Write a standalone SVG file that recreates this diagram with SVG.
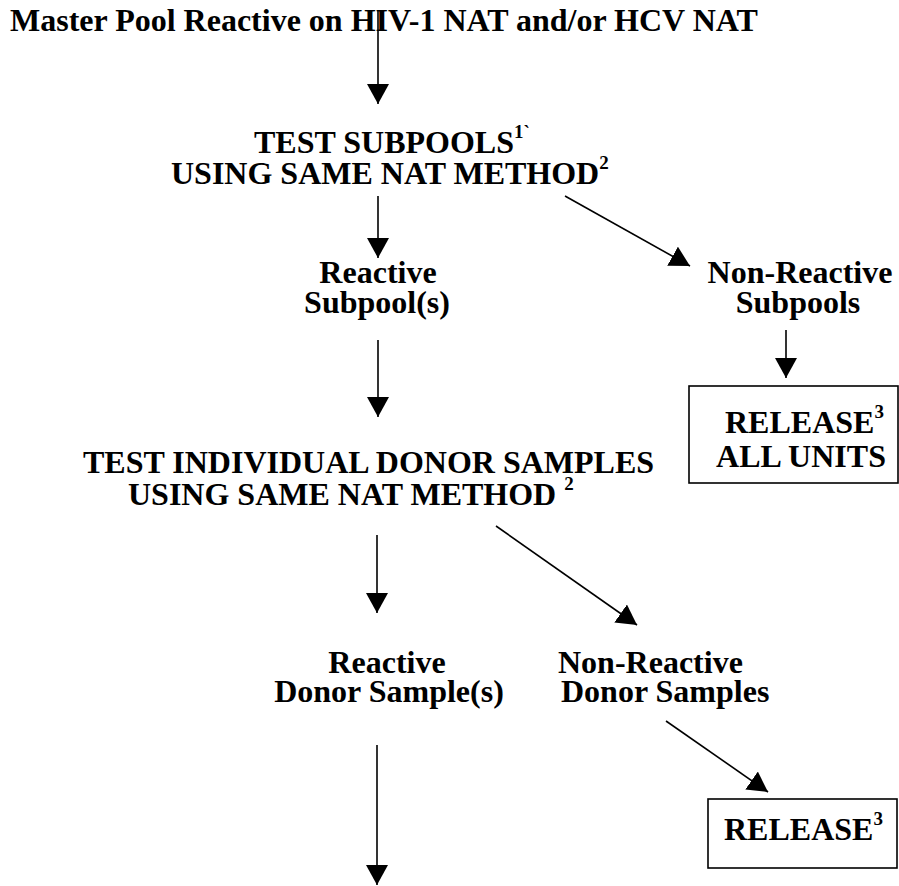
<svg xmlns="http://www.w3.org/2000/svg" width="899" height="886" viewBox="0 0 899 886">
  <defs>
    <style>
      text { font-family: "Liberation Serif", "Times New Roman", "DejaVu Serif", serif; font-weight: bold; font-size: 32px; fill: #000; }
      .mid { text-anchor: middle; }
      .sup { font-size: 19px; }
      .box { fill: #fff; stroke: #000; stroke-width: 1.6; }
      .link { stroke: #000; stroke-width: 1.6; fill: none; marker-end: url(#head); }
    </style>
    <marker id="head" viewBox="0 0 20 22" refX="20" refY="11" markerWidth="20" markerHeight="22" markerUnits="userSpaceOnUse" orient="auto">
      <path d="M0,0 L20,11 L0,22 Z" fill="#000"/>
    </marker>
  </defs>
  <rect width="899" height="886" fill="#fff"/>

  <g id="master-pool">
    <text x="10" y="31">Master Pool Reactive on HIV-1 NAT and/or HCV NAT</text>
  </g>

  <g id="test-subpools">
    <text x="254" y="153">TEST SUBPOOLS<tspan class="sup" dy="-15">1`</tspan></text>
    <text x="171" y="184">USING SAME NAT METHOD<tspan class="sup" dy="-15">2</tspan></text>
  </g>

  <g id="reactive-subpools">
    <text class="mid" x="378" y="283">Reactive</text>
    <text class="mid" x="377" y="313">Subpool(s)</text>
  </g>

  <g id="nonreactive-subpools">
    <text class="mid" x="800" y="283">Non-Reactive</text>
    <text class="mid" x="798" y="313">Subpools</text>
  </g>

  <g id="release-all-units">
    <rect class="box" x="689" y="386" width="209" height="97"/>
    <text x="725" y="433">RELEASE<tspan class="sup" dy="-15">3</tspan></text>
    <text class="mid" x="801" y="467">ALL UNITS</text>
  </g>

  <g id="test-individual">
    <text x="83" y="473">TEST INDIVIDUAL DONOR SAMPLES</text>
    <text x="128" y="505">USING SAME NAT METHOD <tspan class="sup" dy="-15">2</tspan></text>
  </g>

  <g id="reactive-donor">
    <text class="mid" x="387" y="673">Reactive</text>
    <text class="mid" x="389" y="702">Donor Sample(s)</text>
  </g>

  <g id="nonreactive-donor">
    <text x="558" y="673">Non-Reactive</text>
    <text x="561" y="702">Donor Samples</text>
  </g>

  <g id="release">
    <rect class="box" x="708" y="799" width="189" height="69"/>
    <text x="724" y="840">RELEASE<tspan class="sup" dy="-15">3</tspan></text>
  </g>

  <g id="connectors">
    <line class="link" x1="378" y1="10" x2="378" y2="104"/>
    <line class="link" x1="378" y1="196" x2="378" y2="258"/>
    <line class="link" x1="565" y1="196" x2="690" y2="266"/>
    <line class="link" x1="786" y1="330" x2="786" y2="378"/>
    <line class="link" x1="378" y1="340" x2="378" y2="417"/>
    <line class="link" x1="377" y1="535" x2="377" y2="613"/>
    <line class="link" x1="496" y1="526" x2="637" y2="625"/>
    <line class="link" x1="377" y1="745" x2="377" y2="885"/>
    <line class="link" x1="666" y1="721" x2="768" y2="792"/>
  </g>
</svg>
